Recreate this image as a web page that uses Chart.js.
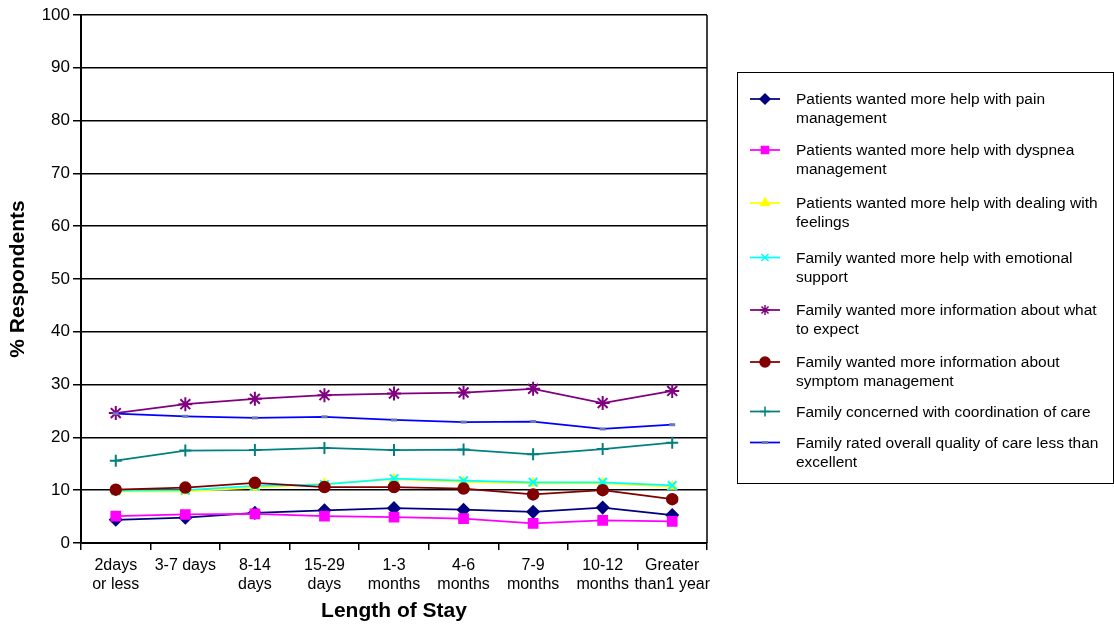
<!DOCTYPE html>
<html>
<head>
<meta charset="utf-8">
<script src="https://cdn.jsdelivr.net/npm/chart.js@4"></script>
<style>
  html, body { margin: 0; padding: 0; background: #fff; }
  #wrap { width: 1114px; height: 628px; }
</style>
</head>
<body>
<div id="wrap"><canvas id="c" width="1114" height="628"></canvas></div>
<script>
// Length-of-stay categories (multi-line tick labels)
const stayLabels = [
  ['2days', 'or less'], ['3-7 days'], ['8-14', 'days'], ['15-29', 'days'],
  ['1-3', 'months'], ['4-6', 'months'], ['7-9', 'months'], ['10-12', 'months'],
  ['Greater', 'than1 year']
];

// Series names, split into the lines shown in the legend
const seriesNames = [
  ['Patients wanted more help with pain', 'management'],
  ['Patients wanted more help with dyspnea', 'management'],
  ['Patients wanted more help with dealing with', 'feelings'],
  ['Family wanted more help with emotional', 'support'],
  ['Family wanted more information about what', 'to expect'],
  ['Family wanted more information about', 'symptom management'],
  ['Family concerned with coordination of care'],
  ['Family rated overall quality of care less than', 'excellent']
];

// % respondents per length-of-stay group
const painMgmt      = [4.4, 4.8, 5.7, 6.2, 6.6, 6.3, 5.9, 6.7, 5.3];
const dyspneaMgmt   = [5.1, 5.4, 5.5, 5.1, 4.9, 4.6, 3.7, 4.3, 4.1];
const feelings      = [9.8, 9.8, 10.5, 11.2, 12.1, 11.6, 11.3, 11.3, 10.7];
const emotional     = [9.9, 10.0, 10.8, 11.1, 12.2, 11.8, 11.5, 11.5, 10.9];
const whatToExpect  = [24.6, 26.3, 27.3, 28.0, 28.3, 28.5, 29.2, 26.5, 28.8];
const symptomInfo   = [10.1, 10.5, 11.4, 10.6, 10.6, 10.3, 9.2, 10.0, 8.3];
const coordination  = [15.6, 17.5, 17.6, 18.0, 17.6, 17.7, 16.8, 17.8, 19.0];
const qualityRating = [24.5, 24.0, 23.7, 23.9, 23.3, 22.9, 23.0, 21.6, 22.4];

// y-axis ticks
const yMin = 0, yMax = 100, yStep = 10;

const FONT = '"Liberation Sans", Arial, sans-serif';

const styles = [
  { color: '#000080', point: 'rectRot',  radius: 6,   fill: '#000080' },
  { color: '#FF00FF', point: 'rect',     radius: 6.5, fill: '#FF00FF' },
  { color: '#FFFF00', point: 'triangle', radius: 5,   fill: '#FFFF00' },
  { color: '#00FFFF', point: 'crossRot', radius: 6,   fill: '#00FFFF' },
  { color: '#800080', point: 'star',     radius: 7,   fill: '#800080' },
  { color: '#800000', point: 'circle',   radius: 5.5, fill: '#800000' },
  { color: '#008080', point: 'cross',    radius: 6,   fill: '#008080' },
  { color: '#0000FF', point: 'line',     radius: 3,   fill: '#6a78b8', pointColor: '#6a78b8' }
];

const seriesData = [painMgmt, dyspneaMgmt, feelings, emotional,
                    whatToExpect, symptomInfo, coordination, qualityRating];

const datasets = seriesData.map((vals, i) => {
  const s = styles[i];
  return {
    label: seriesNames[i].join(' '),
    data: vals,
    borderColor: s.color,
    backgroundColor: s.fill,
    borderWidth: 1.75,
    pointStyle: s.point,
    pointRadius: s.radius,
    pointHoverRadius: s.radius,
    pointBackgroundColor: s.fill,
    pointBorderColor: s.pointColor || s.color,
    pointBorderWidth: s.point === 'line' ? 3 : (s.point === 'star' || s.point.startsWith('cross') ? 2 : 1.5),
    tension: 0,
    fill: false,
    // later series are drawn over earlier ones
    order: seriesData.length - i
  };
});

// Boxed legend at the right with wrapped entries
const boxLegend = {
  id: 'boxLegend',
  afterDraw(chart, args, opts) {
    const ctx = chart.ctx;
    ctx.save();
    ctx.strokeStyle = '#000';
    ctx.lineWidth = 1;
    ctx.strokeRect(opts.box.x + 0.5, opts.box.y + 0.5, opts.box.w, opts.box.h);
    ctx.font = opts.fontSize + 'px ' + FONT;
    ctx.fillStyle = '#000';
    ctx.textBaseline = 'middle';
    ctx.textAlign = 'left';
    chart.data.datasets.forEach((ds, i) => {
      const y = opts.rows[i];
      ctx.strokeStyle = ds.borderColor;
      ctx.lineWidth = 1.75;
      ctx.beginPath();
      ctx.moveTo(opts.lineX0, y);
      ctx.lineTo(opts.lineX1, y);
      ctx.stroke();
      const mx = (opts.lineX0 + opts.lineX1) / 2;
      const r = ds.pointStyle === 'line' ? 3 : Math.min(ds.pointRadius, 5);
      ctx.fillStyle = ds.pointBackgroundColor;
      ctx.strokeStyle = ds.pointBorderColor;
      ctx.lineWidth = ds.pointStyle === 'line' ? 3 : 1.5;
      Chart.helpers.drawPoint(ctx, { pointStyle: ds.pointStyle, radius: r, rotation: 0, borderWidth: ctx.lineWidth }, mx, y);
      ctx.fillStyle = '#000';
      seriesNames[i].forEach((line, k) => {
        ctx.fillText(line, opts.textX, y + 1 + k * opts.lineHeight);
      });
    });
    ctx.restore();
  }
};

// Right edge of the plot frame
const frame = {
  id: 'frame',
  afterDatasetsDraw(chart) {
    const { ctx, chartArea: a } = chart;
    ctx.save();
    ctx.strokeStyle = '#000';
    ctx.lineWidth = 1.5;
    ctx.beginPath();
    ctx.moveTo(a.right, a.top);
    ctx.lineTo(a.right, a.bottom);
    ctx.stroke();
    ctx.restore();
  }
};

new Chart(document.getElementById('c'), {
  type: 'line',
  data: { labels: stayLabels, datasets },
  plugins: [boxLegend, frame],
  options: {
    responsive: false,
    animation: false,
    events: [],
    layout: { padding: { left: 0, right: 407, top: 15, bottom: 0 } },
    plugins: {
      legend: { display: false },
      tooltip: { enabled: false },
      boxLegend: {
        box: { x: 737, y: 72, w: 376, h: 411 },
        rows: [99, 150, 203, 257.5, 310, 362, 411.5, 442.5],
        lineX0: 750, lineX1: 780, textX: 796,
        fontSize: 15.5, lineHeight: 19
      }
    },
    scales: {
      x: {
        type: 'category',
        offset: true,
        grid: {
          offset: true,
          drawOnChartArea: false,
          drawTicks: true,
          tickLength: 7,
          color: '#000',
          lineWidth: 1.5
        },
        border: { display: true, color: '#000', width: 2 },
        ticks: {
          color: '#000',
          font: { family: FONT, size: 16 },
          padding: 6,
          maxRotation: 0,
          autoSkip: false
        },
        title: {
          display: true,
          text: 'Length of Stay',
          color: '#000',
          font: { family: FONT, size: 21, weight: 'bold' },
          padding: { top: 4, bottom: 4 }
        },
        afterFit(scale) { scale.height = 85; }
      },
      y: {
        min: yMin,
        max: yMax,
        grid: {
          color: '#000',
          lineWidth: 1.5,
          drawTicks: true,
          tickLength: 8
        },
        border: { display: true, color: '#000', width: 2 },
        ticks: {
          stepSize: yStep,
          color: '#000',
          font: { family: FONT, size: 17 },
          padding: 3
        },
        title: {
          display: true,
          text: '% Respondents',
          color: '#000',
          font: { family: FONT, size: 21, weight: 'bold' },
          padding: { top: 6, bottom: 0 }
        },
        afterFit(scale) { scale.width = 81; }
      }
    }
  }
});
</script>
</body>
</html>
